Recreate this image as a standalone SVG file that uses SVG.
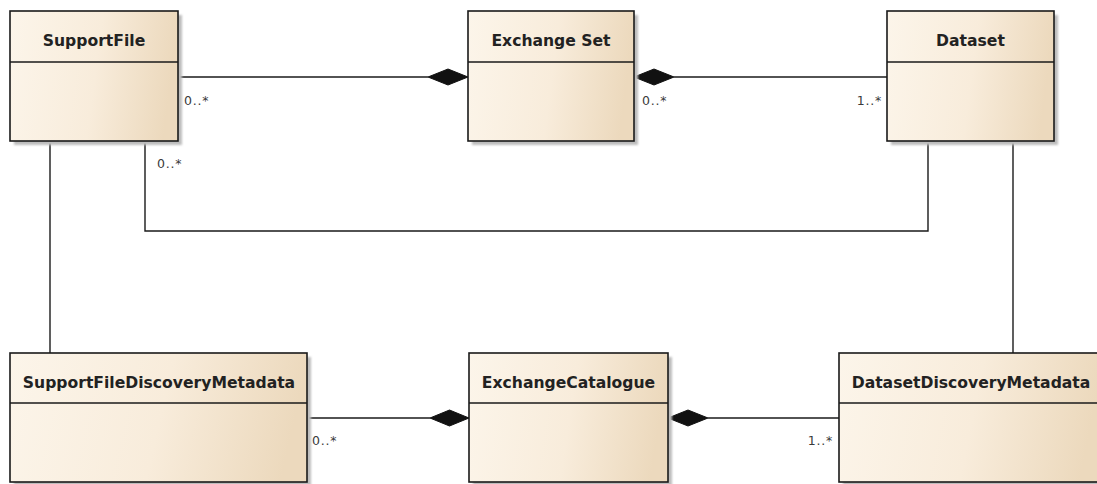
<svg xmlns="http://www.w3.org/2000/svg" width="1097" height="484" viewBox="0 0 1097 484">
  <defs>
    <linearGradient id="fill" x1="0" y1="0" x2="1" y2="0.1">
      <stop offset="0" stop-color="#fcf5ea"/>
      <stop offset="0.55" stop-color="#f8ecdb"/>
      <stop offset="1" stop-color="#ecd9bd"/>
    </linearGradient>
    <filter id="blur" x="-10%" y="-10%" width="120%" height="120%">
      <feGaussianBlur stdDeviation="1.2"/>
    </filter>
  </defs>
  <style>
    .shadow { fill: #bdbdbd; filter: url(#blur); }
    .box { fill: url(#fill); stroke: #1a1a1a; stroke-width: 1.6; }
    .div { stroke: #1a1a1a; stroke-width: 1.4; }
    .title { font-family: "DejaVu Sans", Verdana, sans-serif; font-weight: bold; font-size: 15.6px; fill: #222; text-anchor: middle; }
    .mult { font-family: "DejaVu Sans", Verdana, sans-serif; font-size: 12.5px; letter-spacing: 0.8px; fill: #3a3a3a; }
    .end { text-anchor: end; }
    .conn { fill: none; stroke: #1a1a1a; stroke-width: 1.4; }
    .dia { fill: #111; stroke: #111; stroke-width: 1; }
  </style>
  <rect width="1097" height="484" fill="#ffffff"/>

  <g id="connectors">
    <path class="conn" d="M178,77 H428"/>
    <path class="dia" d="M428,77 L448,69 L468,77 L448,85 Z"/>
    <path class="conn" d="M674,77 H887"/>
    <path class="dia" d="M634,77 L654,69 L674,77 L654,85 Z"/>
    <path class="conn" d="M50,141 V353"/>
    <path class="conn" d="M145,141 V231 H928 V141"/>
    <path class="conn" d="M1013,141 V353"/>
    <path class="conn" d="M307,418 H430"/>
    <path class="dia" d="M430,418 L449.5,410 L469,418 L449.5,426 Z"/>
    <path class="conn" d="M708,418 H839"/>
    <path class="dia" d="M668,418 L688,410 L708,418 L688,426 Z"/>
    <text class="mult" x="184" y="105">0..*</text>
    <text class="mult" x="642" y="105">0..*</text>
    <text class="mult end" x="882" y="105">1..*</text>
    <text class="mult" x="157" y="168">0..*</text>
    <text class="mult" x="312" y="445">0..*</text>
    <text class="mult end" x="833" y="445">1..*</text>
  </g>

  <g id="SupportFile">
    <rect class="shadow" x="14" y="15" width="168" height="130"/>
    <rect class="box" x="10" y="11" width="168" height="130"/>
    <line class="div" x1="10" y1="62" x2="178" y2="62"/>
    <text class="title" x="94" y="46">SupportFile</text>
  </g>

  <g id="ExchangeSet">
    <rect class="shadow" x="472" y="15" width="166" height="130"/>
    <rect class="box" x="468" y="11" width="166" height="130"/>
    <line class="div" x1="468" y1="62" x2="634" y2="62"/>
    <text class="title" x="551" y="46">Exchange Set</text>
  </g>

  <g id="Dataset">
    <rect class="shadow" x="891" y="15" width="167" height="130"/>
    <rect class="box" x="887" y="11" width="167" height="130"/>
    <line class="div" x1="887" y1="62" x2="1054" y2="62"/>
    <text class="title" x="970.5" y="46">Dataset</text>
  </g>

  <g id="SupportFileDiscoveryMetadata">
    <rect class="shadow" x="14" y="357" width="297" height="129"/>
    <rect class="box" x="10" y="353" width="297" height="129"/>
    <line class="div" x1="10" y1="403" x2="307" y2="403"/>
    <text class="title" x="159" y="388">SupportFileDiscoveryMetadata</text>
  </g>

  <g id="ExchangeCatalogue">
    <rect class="shadow" x="473" y="357" width="199" height="129"/>
    <rect class="box" x="469" y="353" width="199" height="129"/>
    <line class="div" x1="469" y1="403" x2="668" y2="403"/>
    <text class="title" x="568.5" y="388">ExchangeCatalogue</text>
  </g>

  <g id="DatasetDiscoveryMetadata">
    <rect class="shadow" x="843" y="357" width="264" height="129"/>
    <rect class="box" x="839" y="353" width="264" height="129"/>
    <line class="div" x1="839" y1="403" x2="1103" y2="403"/>
    <text class="title" x="971" y="388">DatasetDiscoveryMetadata</text>
  </g>
</svg>
